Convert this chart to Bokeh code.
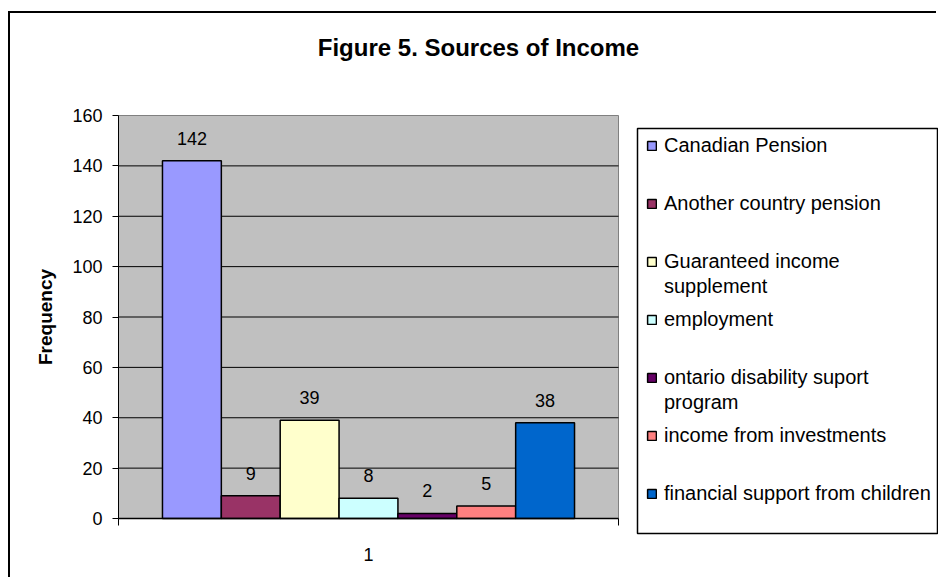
import math
from bokeh.plotting import figure
from bokeh.models import (Range1d, FixedTicker, Legend, LegendItem, LabelSet, Label,
                          BoxAnnotation, ColumnDataSource)
from bokeh.core.properties import value
from bokeh.embed import file_html
from bokeh.resources import INLINE

# ---------------- data ----------------
title_text = "Figure 5. Sources of Income"
y_label = "Frequency"
group_labels = ["1"]
legend_lines = [
    ["Canadian Pension"],
    ["Another country pension"],
    ["Guaranteed income", "supplement"],
    ["employment"],
    ["ontario disability suport", "program"],
    ["income from investments"],
    ["financial support from children"],
]
categories = [" ".join(l) for l in legend_lines]
frequency = [142, 9, 39, 8, 2, 5, 38]
colors = ["#9999FF", "#993366", "#FFFFCC", "#CCFFFF", "#660066", "#FF8080", "#0066CC"]
y_ticks = [0, 20, 40, 60, 80, 100, 120, 140, 160]

# ---------------- layout (page pixels) ----------------
FONT = "Liberation Sans"
OX, OY = 10, 13                      # figure offset inside the page (outer border)
W, H = 938 - OX, 579 - OY
PL, PR, PT, PB = 118, 618, 115, 518  # grey plot area in page pixels
n = len(categories)
pad = 0.747                          # gap at each side of the bar group, in bar widths
x_lo, x_hi = -0.5 - pad, n - 0.5 + pad
ux = (x_hi - x_lo) / (PR - PL)
uy = (y_ticks[-1] - y_ticks[0]) / (PB - PT)
x_start = x_lo - (PL - OX) * ux
y_start = y_ticks[0] - (OY + H - PB) * uy

p = figure(width=W, height=H, output_backend="svg", toolbar_location=None, title=None,
           x_range=Range1d(x_start, x_start + W * ux),
           y_range=Range1d(y_start, y_start + H * uy),
           min_border_left=0, min_border_right=0,
           min_border_top=0, min_border_bottom=0,
           margin=(OY, 0, 0, OX),
           styles={"box-shadow": "-2px -2px 0 0 black"})
p.background_fill_color = "white"
p.border_fill_color = "white"
p.outline_line_color = None

# grey plot area and grid lines
p.quad(left=[x_lo], right=[x_hi], bottom=[y_ticks[0]], top=[y_ticks[-1]],
       fill_color="#C0C0C0", line_color="#808080", line_width=1)
p.segment(x0=[x_lo] * (len(y_ticks) - 2), x1=[x_hi] * (len(y_ticks) - 2),
          y0=y_ticks[1:-1], y1=y_ticks[1:-1], line_color="black", line_width=1)

src = ColumnDataSource(dict(x=list(range(n)), top=frequency, color=colors,
                            label=[str(v) for v in frequency], name=categories))
bars = p.vbar(x="x", top="top", width=1, fill_color="color", line_color="black",
              line_width=1.5, source=src)
dummy = p.vbar(x=[], top=[], width=1, fill_alpha=0, line_alpha=0)

labels = LabelSet(x="x", y="top", text="label", source=src, y_offset=16,
                  text_align="center", text_baseline="alphabetic",
                  text_font=value(FONT), text_font_size="18px", text_color="black")
p.add_layout(labels)

# axes (drawn at the edges of the grey plot area)
yax = p.yaxis[0]
yax.fixed_location = x_lo
yax.ticker = FixedTicker(ticks=y_ticks)
yax.bounds = (y_ticks[0], y_ticks[-1])
yax.major_label_text_font = FONT
yax.major_label_text_font_size = "18px"
yax.major_label_text_color = "black"
yax.major_tick_out = 6
yax.major_tick_in = 0
yax.minor_tick_out = 0
yax.minor_tick_in = 0
yax.major_tick_line_color = "black"
yax.axis_line_color = "black"
yax.major_label_standoff = 10

xax = p.xaxis[0]
center = (n - 1) / 2
xax.fixed_location = y_ticks[0]
xax.ticker = FixedTicker(ticks=[center], minor_ticks=[x_lo, x_hi])
xax.bounds = (x_lo, x_hi)
xax.major_label_overrides = {center: group_labels[0]}
xax.major_label_text_font = FONT
xax.major_label_text_font_size = "18px"
xax.major_label_text_color = "black"
xax.major_tick_out = 0
xax.major_tick_in = 0
xax.minor_tick_out = 7
xax.minor_tick_in = 0
xax.minor_tick_line_color = "black"
xax.axis_line_color = "black"
xax.axis_line_width = 1.5
xax.major_label_standoff = 22

p.xgrid.visible = False
p.ygrid.visible = False

ylab = Label(x=45 - OX, y=(PT + PB) / 2 - OY, x_units="canvas", y_units="canvas",
             angle=math.pi / 2, text=y_label, text_font=FONT, text_font_size="19px",
             text_font_style="bold", text_align="center", text_baseline="middle",
             text_color="black")
p.add_layout(ylab)

# legend: first lines, then continuation lines one text line lower
slot = 58
lh = 24
first_center = 145
line_gap = 25
leg_x = 646 - OX
common = dict(padding=0, margin=0, spacing=slot - lh, glyph_width=11, glyph_height=11,
              label_height=lh, label_standoff=7, label_text_font=FONT,
              label_text_font_size="20px", label_text_color="black",
              border_line_color=None, background_fill_alpha=0)
topA = first_center - lh / 2
hA = n * lh + (n - 1) * (slot - lh)
legA = Legend(items=[LegendItem(label=l[0], renderers=[bars], index=i)
                     for i, l in enumerate(legend_lines)],
              location=(leg_x, OY + H - topA - hA), **common)
last_multi = max(i for i, l in enumerate(legend_lines) if len(l) > 1)
kB = last_multi + 1
topB = topA + line_gap
hB = kB * lh + (kB - 1) * (slot - lh)
legB = Legend(items=[LegendItem(label=(l[1] if len(l) > 1 else " "), renderers=[dummy])
                     for l in legend_lines[:kB]],
              location=(leg_x, OY + H - topB - hB), **common)
p.add_layout(legA)
p.add_layout(legB)

legend_box = BoxAnnotation(left=637 - OX, right=937 - OX, top=128 - OY, bottom=533 - OY,
                           left_units="canvas", right_units="canvas",
                           top_units="canvas", bottom_units="canvas",
                           fill_color=None, fill_alpha=0, line_color="black",
                           line_alpha=1, line_width=1.5)
p.add_layout(legend_box)

title = Label(x=478 - OX, y=47 - OY, x_units="canvas", y_units="canvas", text=title_text,
              text_font=FONT, text_font_size="24px", text_font_style="bold",
              text_align="center", text_baseline="alphabetic", text_color="black")
p.add_layout(title)

open("out.html", "w").write(file_html(p, INLINE))
